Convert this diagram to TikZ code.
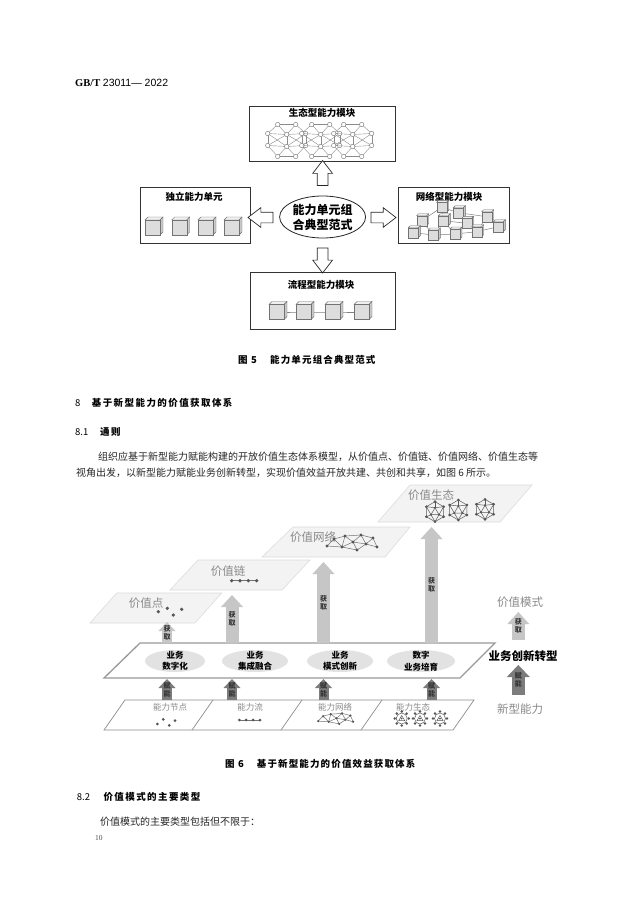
\documentclass[tikz,border=0pt]{standalone}
\usepackage{fontspec}
\setmainfont{Liberation Serif}
\newfontfamily\cjk{Noto Sans CJK SC}
\newfontfamily\arialfont{Liberation Sans}
\usetikzlibrary{arrows.meta,shapes.geometric,shapes.arrows}

\definecolor{layerfill}{HTML}{F3F3F3}
\definecolor{layeredge}{HTML}{DCDCDC}
\definecolor{valgray}{HTML}{8A8A8A}
\definecolor{getgray}{HTML}{C6C6C6}
\definecolor{powgray}{HTML}{7C7C7C}
\definecolor{ellgray}{HTML}{E2E2E2}
\definecolor{dotgray}{HTML}{555555}
\definecolor{cubefront}{HTML}{DDDDDD}
\definecolor{cubetop}{HTML}{F0F0F0}
\definecolor{cubeside}{HTML}{C8C8C8}

\tikzset{
  modbox/.style={draw=black!80, line width=0.7pt},
  modtitle/.style={font=\cjk\bfseries\fontsize{9.5}{11}\selectfont, inner sep=0pt},
  core/.style={ellipse, draw=black!85, line width=0.8pt, inner sep=0pt, align=center,
    font=\cjk\bfseries\fontsize{12}{15}\selectfont, minimum width=86pt, minimum height=42pt},
  hollow/.style={single arrow, draw=black!85, fill=white, line width=0.7pt, minimum width=19pt,
    minimum height=25pt, single arrow head extend=4.5pt, single arrow tip angle=75, inner sep=5pt},
  cubeedge/.style={draw=black!55, line width=0.4pt},
  netline/.style={draw=black!50, line width=0.5pt},
  ecoline/.style={draw=black!45, line width=0.4pt},
  ecodot/.style={draw=black!55, fill=white, line width=0.4pt},
  webline/.style={draw=black!55, line width=0.5pt},
  geoline/.style={draw=black!65, line width=0.5pt},
  layer/.style={fill=layerfill, draw=layeredge, line width=0.6pt},
  valtext/.style={font=\cjk\fontsize{11.5}{13}\selectfont, text=valgray, inner sep=0pt},
  captext/.style={font=\cjk\bfseries\fontsize{9.5}{11}\selectfont\addfontfeature{LetterSpace=12},
    anchor=west, inner sep=0pt},
  headtext/.style={font=\cjk\bfseries\fontsize{9.5}{11}\selectfont\addfontfeature{LetterSpace=15},
    anchor=west, inner sep=0pt},
  headnum/.style={font=\cjk\fontsize{9.5}{11}\selectfont, anchor=west, inner sep=0pt},
  bodytext/.style={font=\cjk\fontsize{10}{12}\selectfont, text=black!85, anchor=west, inner sep=0pt},
  platform/.style={draw=black!40, fill=white, line width=1.3pt},
  strip/.style={draw=black!45, line width=0.7pt},
  biztext/.style={font=\cjk\bfseries\fontsize{8.5}{11.5}\selectfont, align=center, inner sep=0pt},
  captab/.style={font=\cjk\fontsize{8.5}{10}\selectfont, text=valgray, inner sep=0pt},
  getarrow/.style={draw=getgray, line width=13pt, -{Triangle[width=22pt, length=12pt, line width=0pt]}},
  getsmall/.style={draw=getgray, line width=10pt, -{Triangle[width=17pt, length=9pt, line width=0pt]}},
  powarrow/.style={draw=powgray, line width=10pt, -{Triangle[width=17pt, length=9pt, line width=0pt]}},
  powbig/.style={draw=powgray, line width=13pt, -{Triangle[width=23pt, length=12pt, line width=0pt]}},
  arrlabel/.style={font=\cjk\bfseries\fontsize{7}{8}\selectfont, align=center, inner sep=0pt, text=black!80},
  pics/cube/.style={code={
    \filldraw[cubeedge, fill=cubetop] ({-0.5*#1},{-0.5*#1}) -- ({-0.3*#1},{-0.7*#1})
      -- ({0.7*#1},{-0.7*#1}) -- ({0.5*#1},{-0.5*#1}) -- cycle;
    \filldraw[cubeedge, fill=cubeside] ({0.5*#1},{-0.5*#1}) -- ({0.7*#1},{-0.7*#1})
      -- ({0.7*#1},{0.3*#1}) -- ({0.5*#1},{0.5*#1}) -- cycle;
    \filldraw[cubeedge, fill=cubefront] ({-0.5*#1},{-0.5*#1}) rectangle ({0.5*#1},{0.5*#1});
  }},
  pics/eco/.style={code={
    \foreach \n/\p in {1/{-9,-16},2/{9,-16},3/{-19,-7},4/{0,-6},5/{19,-7},
                       6/{-19,5},7/{0,6},8/{19,5},9/{-9,16},10/{9,16}}
      \coordinate (e\n) at (\p);
    \foreach \a/\b in {1/2,1/3,1/4,2/4,2/5,3/4,4/5,3/6,4/7,5/8,4/6,4/8,6/7,7/8,
                       6/9,7/9,7/10,8/10,9/10,3/7,5/7}
      \draw[ecoline] (e\a) -- (e\b);
    \foreach \n in {1,...,10}
      \filldraw[ecodot] (e\n) circle (2.2pt);
  }},
  pics/web/.style={code={
    \foreach \n/\p in {1/{-24,3},2/{-17,-4},3/{-9,4},4/{-6,-7},5/{2,-1},
                       6/{6,7},7/{10,-8},8/{15,1},9/{22,-5},10/{26,4}}
      \coordinate (n\n) at (\p);
    \foreach \a/\b in {1/2,1/3,2/3,2/4,3/4,3/5,4/5,4/7,5/6,5/7,5/8,6/8,7/8,7/9,8/9,8/10,9/10,3/6}
      \draw[webline] (n\a) -- (n\b);
    \foreach \n in {1,...,10}
      \fill[dotgray] (n\n) circle (1.7pt);
  }},
  pics/geo/.style={code={
    \foreach \a [count=\i] in {90,150,...,390}
      \coordinate (h\i) at (\a:10);
    \draw[geoline] (h1) -- (h2) -- (h3) -- (h4) -- (h5) -- (h6) -- cycle;
    \coordinate (i1) at (0,-4);
    \coordinate (i2) at (-4,3);
    \coordinate (i3) at (4,3);
    \draw[geoline] (i1) -- (i2) -- (i3) -- cycle;
    \foreach \a/\b in {4/1,3/1,5/1,3/2,2/2,1/2,1/3,6/3,5/3}
      \draw[geoline] (h\a) -- (i\b);
    \foreach \i in {1,...,6}
      \fill[dotgray] (h\i) circle (1.5pt);
    \foreach \i in {1,2,3}
      \fill[dotgray] (i\i) circle (1.2pt);
  }},
  pics/gear/.style={code={
    \foreach \a in {0,45,...,315}
      \fill[dotgray] (\a:7) circle (1.4pt);
    \draw[geoline, fill=white] (0,0) circle (5.5pt);
    \draw[geoline] (-3,2) -- (0,-3) -- (3,2) -- cycle;
    \fill[dotgray] (0,0) circle (1pt);
  }},
}

\begin{document}
\begin{tikzpicture}[x=1pt, y=-1pt]
  \useasboundingbox (0,0) rectangle (640,904);
  \fill[white] (0,0) rectangle (640,904);

  \node[anchor=west, inner sep=0pt, font=\fontsize{10.5}{12}\selectfont] (std) at (75,82.7)
    {\textbf{GB/T} {\arialfont 23011— 2022}};

  % figure 5
  \node[modbox, minimum width=145.7pt, minimum height=55.7pt] (eco) at (322.2,133.9) {};
  \node[modbox, minimum width=109.3pt, minimum height=55.6pt] (solo) at (195.3,215.5) {};
  \node[modbox, minimum width=110.7pt, minimum height=55.6pt] (net) at (453.7,215.5) {};
  \node[modbox, minimum width=145.7pt, minimum height=56.3pt] (flow) at (322.8,300.8) {};
  \node[modtitle] (ecot) at (322,113) {生态型能力模块};
  \node[modtitle] (solot) at (194,197.3) {独立能力单元};
  \node[modtitle] (nett) at (449,197.3) {网络型能力模块};
  \node[modtitle] (flowt) at (321,285) {流程型能力模块};

  \node[core] (core) at (322.6,217) {能力单元组\\合典型范式};
  \node[hollow, shape border rotate=90] (up) at (322.6,176.5) {};
  \node[hollow, shape border rotate=270] (dn) at (322.6,257) {};
  \node[hollow, shape border rotate=180] (lt) at (264,217.5) {};
  \node[hollow] (rt) at (380,217.5) {};

  \foreach \x in {286.7,320.7,352.7}
    \pic at (\x,140.5) {eco};
  \foreach \x in {152.5,179.2,205.5,231.5}
    \pic at (\x,227.5) {cube=15};

  \foreach \n/\x in {1/276.5,2/303.5,3/332.5,4/361.5}
    \coordinate (f\n) at (\x,312);
  \draw[netline] (f1) -- (f2) -- (f3) -- (f4);
  \foreach \n in {1,...,4}
    \pic at (f\n) {cube=15};

  \foreach \n/\p in {1/{441.7,207.3},2/{458.3,212.7},3/{421.7,220.7},4/{443.3,220.7},
                     5/{466.7,223.3},6/{486.7,216.7},7/{413.3,232.7},8/{433.3,235},
                     9/{455,234},10/{476.7,231.7},11/{498.3,226.7}}
    \coordinate (w\n) at (\p);
  \foreach \a/\b in {1/2,1/3,1/4,2/5,2/6,3/7,3/8,4/5,4/8,5/9,5/10,6/10,6/11,7/8,8/9,9/10,10/11,4/9}
    \draw[netline] (w\a) -- (w\b);
  \foreach \n in {1,...,11}
    \pic at (w\n) {cube=10};

  \node[captext] (cap5n) at (238,360) {图 5};
  \node[captext] (cap5) at (270,360) {能力单元组合典型范式};

  \node[headnum] (h8n) at (75,403) {8};
  \node[headtext] (h8) at (91.7,403) {基于新型能力的价值获取体系};
  \node[headnum] (h81n) at (75,432) {8.1};
  \node[headtext] (h81) at (100,432) {通则};
  \node[bodytext] (par1) at (98,457)
    {组织应基于新型能力赋能构建的开放价值生态体系模型，从价值点、价值链、价值网络、价值生态等};
  \node[bodytext] (par2) at (76,473)
    {视角出发，以新型能力赋能业务创新转型，实现价值效益开放共建、共创和共享，如图 6 所示。};

  % figure 6
  \filldraw[layer] (116.7,593) -- (221.7,593) -- (195,623) -- (90,623) -- cycle;
  \filldraw[layer] (198,560) -- (310,560) -- (282,590) -- (170,590) -- cycle;
  \filldraw[layer] (293,527) -- (410,527) -- (385,557) -- (262,557) -- cycle;
  \filldraw[layer] (410,485) -- (532,485) -- (500,522) -- (378,522) -- cycle;
  \node[valtext] (vpoint) at (146,603) {价值点};
  \node[valtext] (vchain) at (228,571) {价值链};
  \node[valtext] (vnet) at (313,537) {价值网络};
  \node[valtext] (veco) at (431,495) {价值生态};
  \foreach \p in {(158.3,611.7),(167.3,608.3),(181.7,609.3),(173.3,615)}
    \fill[dotgray] \p circle (1.8pt);
  \draw[webline] (231.7,580.7) -- (256.7,580.7);
  \foreach \x in {231.7,240,248.3,256.7}
    \fill[dotgray] (\x,580.7) circle (1.8pt);
  \pic at (351,543) {web};
  \foreach \x/\y in {435/511.7,458.3/510,485/509.3}
    \pic at (\x,\y) {geo};

  \draw[platform] (140,643) -- (495,643) -- (460,678) -- (104,678) -- cycle;
  \foreach \x/\r in {175/30,255/33,340/33,421/34}
    \fill[ellgray] (\x,661) ellipse [x radius=\r, y radius=11];
  \node[biztext] (b1) at (175,661) {业务\\数字化};
  \node[biztext] (b2) at (255,661) {业务\\集成融合};
  \node[biztext] (b3) at (340,661) {业务\\模式创新};
  \node[biztext] (b4) at (421,661) {数字\\业务培育};

  \draw[strip] (125,700) -- (474,700) -- (453,730) -- (104,730) -- cycle;
  \draw[strip] (213,700) -- (192,730);
  \draw[strip] (302,700) -- (281,730);
  \draw[strip] (382,700) -- (361,730);
  \node[captab] (c1) at (170,707) {能力节点};
  \node[captab] (c2) at (250,707) {能力流};
  \node[captab] (c3) at (335,707) {能力网络};
  \node[captab] (c4) at (413,707) {能力生态};
  \foreach \p in {(157.3,724),(163.3,719.3),(169.3,725.3),(175,720.7)}
    \fill[dotgray] \p circle (1.5pt);
  \draw[webline] (239.3,720) -- (260,720);
  \foreach \x in {239.3,246.2,253.1,260}
    \fill[dotgray] (\x,720) circle (1.5pt);
  \pic[scale=0.7] at (335,719) {web};
  \foreach \x in {401.7,420,440}
    \pic at (\x,718.5) {gear};

  % arrows
  \foreach \n/\x in {1/167,2/232,3/323.5,4/431.5}
  {
    \coordinate (pa\n) at (\x,643);
    \coordinate (sa\n) at (\x,700);
    \coordinate (sb\n) at (\x,679);
  }
  \coordinate (va1) at (167,622);
  \coordinate (va2) at (232,595);
  \coordinate (va3) at (323.5,562);
  \coordinate (va4) at (431.5,527);
  \draw[getsmall] (pa1) -- node[arrlabel] {获\\取} (va1);
  \foreach \n in {2,3,4}
    \draw[getarrow] (pa\n) -- node[arrlabel] {获\\取} (va\n);
  \foreach \n in {1,...,4}
    \draw[powarrow] (sa\n) -- node[arrlabel] {赋\\能} (sb\n);

  \node[valtext] (mode) at (520,601.7) {价值模式};
  \node[font=\cjk\bfseries\fontsize{11.5}{13}\selectfont, inner sep=0pt] (trans) at (523,656) {业务创新转型};
  \node[valtext] (newcap) at (520,709) {新型能力};
  \coordinate (m1) at (518.3,640);
  \coordinate (m2) at (518.3,612);
  \coordinate (m3) at (518.3,695);
  \coordinate (m4) at (518.3,665);
  \draw[getarrow] (m1) -- node[arrlabel] {获\\取} (m2);
  \draw[powbig] (m3) -- node[arrlabel] {赋\\能} (m4);

  \node[captext] (cap6n) at (225,764) {图 6};
  \node[captext] (cap6) at (256.7,764) {基于新型能力的价值效益获取体系};
  \node[headnum] (h82n) at (76.7,796.7) {8.2};
  \node[headtext] (h82) at (103.3,796.7) {价值模式的主要类型};
  \node[bodytext] (par3) at (100,821.7) {价值模式的主要类型包括但不限于：};
  \node[anchor=west, inner sep=0pt, font=\fontsize{7.5}{9}\selectfont, text=black!70] (pg) at (95,838) {10};
\end{tikzpicture}
\end{document}
